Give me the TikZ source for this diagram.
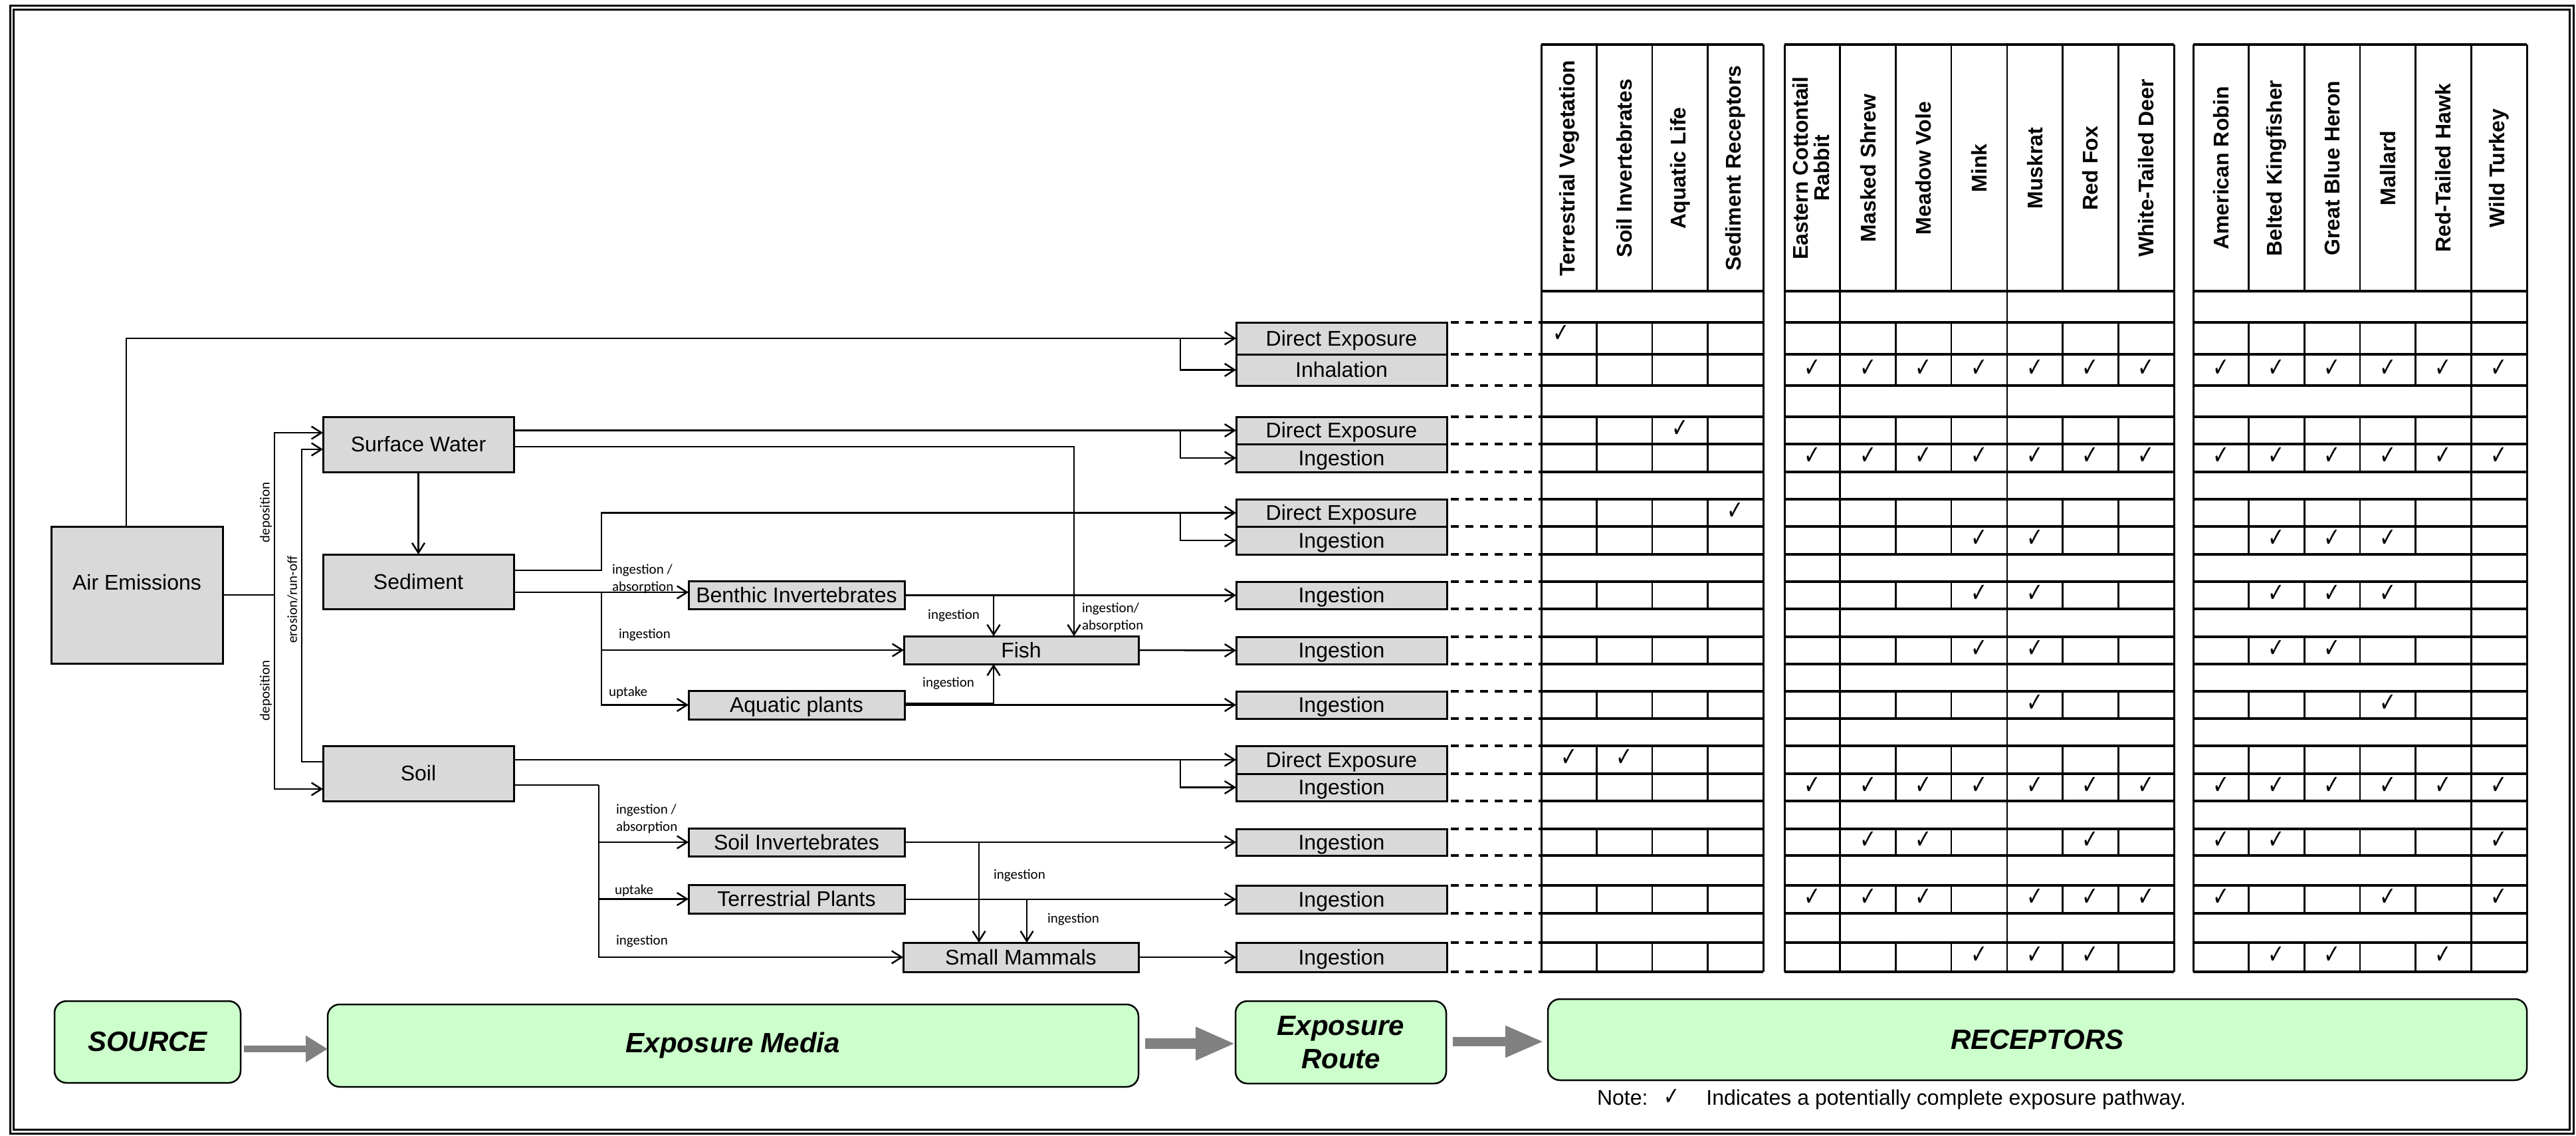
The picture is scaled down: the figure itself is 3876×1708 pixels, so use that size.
\documentclass[tikz,border=0pt]{standalone}
\usepackage{fontspec}
\setmainfont{Liberation Sans}
\newfontfamily\lblfont{Carlito}
\newfontfamily\symfont{DejaVu Sans}
\usetikzlibrary{arrows.meta,calc}

\definecolor{boxgrey}{HTML}{D9D9D9}
\definecolor{legendgreen}{HTML}{CCFFCC}
\definecolor{arrowgrey}{HTML}{808080}

% exposure-route box spanning two row lines of the receptor table
\newcommand\routebox[4]{\node[rbox, minimum height={(#3-#2)*1pt}] (#1) at (2018.5,{(#2+#3)/2}) {#4};}
% pathway tick mark
\newcommand\tick{\scalebox{0.75}[1]{✓}}

\begin{document}
\begin{tikzpicture}[x=1pt,y=-1pt,
  every node/.style={inner sep=0pt,outer sep=0pt},
  txt/.style={font=\fontsize{32}{38}\selectfont, text height=29pt, text depth=7pt},
  mbox/.style={txt, draw, line width=3pt, fill=boxgrey},
  rbox/.style={mbox, minimum width=317pt},
  wire/.style={line width=2.5pt},
  flow/.style={wire, -{Straight Barb[length=15pt,width=19pt]}},
  lbl/.style={font=\lblfont\fontsize{21}{26}\selectfont, align=left},
  dashrow/.style={line width=3.5pt, dash pattern=on 12pt off 10pt},
  tabh/.style={line width=3.5pt},
  tabv/.style={line width=2.5pt},
  tabo/.style={line width=3pt},
  hdr/.style={rotate=90, font=\fontsize{32}{32}\selectfont\bfseries, align=center},
  chk/.style={font=\symfont\fontsize{40}{40}\selectfont},
  legend/.style={draw, line width=2.5pt, fill=legendgreen, rounded corners=18pt,
    font=\fontsize{42}{50}\selectfont\bfseries\itshape, align=center},
]
\useasboundingbox (0,0) rectangle (3876,1708);

% double frame
\draw[line width=3pt] (15.5,8) rectangle (3872,1705);
\draw[line width=2.5pt] (20.5,14.5) rectangle (3866.5,1699.5);

% ---------- source and exposure media ----------
\node[mbox, minimum width=258pt, minimum height=206pt, text depth=44pt] (air) at (206,895) {Air Emissions};
\node[mbox, minimum width=287pt, minimum height=83pt] (sw) at (629.5,668.5) {Surface Water};
\node[mbox, minimum width=287pt, minimum height=82pt] (sed) at (629.5,875) {Sediment};
\node[mbox, minimum width=287pt, minimum height=83pt] (soil) at (629.5,1163.5) {Soil};
\node[mbox, minimum width=325pt, minimum height=42pt] (benthic) at (1198.5,895) {Benthic Invertebrates};
\node[mbox, minimum width=353pt, minimum height=42pt] (fish) at (1536.5,978) {Fish};
\node[mbox, minimum width=325pt, minimum height=43pt] (aqplants) at (1198.5,1060.5) {Aquatic plants};
\node[mbox, minimum width=325pt, minimum height=42pt] (soilinv) at (1198.5,1267) {Soil Invertebrates};
\node[mbox, minimum width=325pt, minimum height=43pt] (terrpl) at (1198.5,1352.5) {Terrestrial Plants};
\node[mbox, minimum width=354pt, minimum height=44pt] (smallmam) at (1536,1440) {Small Mammals};

% ---------- exposure routes ----------
\routebox{r1}{485}{533}{Direct Exposure}
\routebox{r2}{533}{580}{Inhalation}
\routebox{r3}{627}{668}{Direct Exposure}
\routebox{r4}{668}{710}{Ingestion}
\routebox{r5}{751}{792}{Direct Exposure}
\routebox{r6}{792}{834}{Ingestion}
\routebox{r7}{875}{916}{Ingestion}
\routebox{r8}{958}{999}{Ingestion}
\routebox{r9}{1040}{1081}{Ingestion}
\routebox{r10}{1122}{1164}{Direct Exposure}
\routebox{r11}{1164}{1205}{Ingestion}
\routebox{r12}{1247}{1287}{Ingestion}
\routebox{r13}{1332}{1374}{Ingestion}
\routebox{r14}{1418}{1462}{Ingestion}

\foreach \r in {r1,r2,r3,r4,r5,r6,r7,r8,r9,r10,r11,r12,r13,r14}{
  \draw[dashrow] ([xshift=6pt]\r.north east) -- ++(136,0);
  \draw[dashrow] ([xshift=6pt]\r.south east) -- ++(136,0);
}

% ---------- pathways ----------
\draw[flow] ([xshift=-16pt]air.north) |- (r1.west);
\draw[flow] ([xshift=-84pt]r1.west) |- (r2.west);
\draw[wire] (air.east) -- ++(78,0) coordinate (dep);
\draw[flow] (dep) |- ([yshift=17.5pt]sw.west);
\draw[flow] (dep) |- ([yshift=-23.5pt]soil.west);
\draw[flow] ([yshift=17.5pt]soil.west) -- ++(-32,0) |- ([yshift=-7.5pt]sw.west);
\draw[flow] (sw.south) -- (sed.north);

\draw[flow] (sw.east |- r3.west) -- (r3.west);
\draw[flow] ([xshift=-84pt]r3.west) |- (r4.west);
\draw[flow] ([yshift=-3.5pt]sw.east) -| ([xshift=79.5pt]fish.north);

\draw[flow] ([yshift=17pt]sed.east) -- ++(132,0) |- (r5.west);
\draw[flow] ([xshift=-84pt]r5.west) |- (r6.west);
\draw[flow] ([yshift=-16pt]sed.east) -- ([yshift=4pt]benthic.west);
\coordinate (sedj) at ($([yshift=-16pt]sed.east)+(132,0)$);
\draw[flow] (sedj) |- (fish.west);
\draw[flow] (sedj) |- (aqplants.west);

\draw[flow] (benthic.east |- r7.west) -- (r7.west);
\draw[flow] ([xshift=-41.5pt]fish.north |- benthic.east) -- ([xshift=-41.5pt]fish.north);
\draw[flow] (fish.east) -- (r8.west);
\draw[flow] (aqplants.east) -- (r9.west);
\draw[flow] ([yshift=2.5pt]aqplants.east) -| ([xshift=-41.5pt]fish.south);

\draw[flow] (soil.east |- r10.west) -- (r10.west);
\draw[flow] ([xshift=-84pt]r10.west) |- (r11.west);
\draw[wire] ([yshift=-17.5pt]soil.east) -- ++(128,0) coordinate (soilj);
\draw[flow] (soilj) |- (soilinv.west);
\draw[flow] (soilj) |- (terrpl.west);
\draw[flow] (soilj) |- (smallmam.west);
\draw[flow] (soilinv.east) -- (r12.west);
\draw[flow] (terrpl.east |- r13.west) -- (r13.west);
\draw[flow] (smallmam.east) -- (r14.west);
\draw[flow] ([xshift=-63pt]smallmam.north |- soilinv.east) -- ([xshift=-63pt]smallmam.north);
\draw[flow] ([xshift=9pt]smallmam.north |- terrpl.east) -- ([xshift=9pt]smallmam.north);

% pathway labels
\node[lbl, rotate=90] (depo1) at (400,771) {deposition};
\node[lbl, rotate=90] (depo2) at (400,1039) {deposition};
\node[lbl, rotate=90] (eros) at (440,902) {erosion/run-off};
\node[lbl, anchor=west] (l1) at (921,871) {ingestion /\\absorption};
\node[lbl, anchor=west] (l2) at (931,955) {ingestion};
\node[lbl, anchor=west] (l3) at (916,1042) {uptake};
\node[lbl, anchor=east] (l4) at (1474,926) {ingestion};
\node[lbl, anchor=west] (l5) at (1628,928.5) {ingestion/\\absorption};
\node[lbl, anchor=east] (l6) at (1466,1028) {ingestion};
\node[lbl, anchor=west] (l7) at (927,1232) {ingestion /\\absorption};
\node[lbl, anchor=west] (l8) at (925,1340) {uptake};
\node[lbl, anchor=west] (l9) at (927,1416) {ingestion};
\node[lbl, anchor=west] (l10) at (1495,1317) {ingestion};
\node[lbl, anchor=west] (l11) at (1576,1383) {ingestion};

% ---------- receptor table ----------
\foreach \xa/\xb in {2319/2653, 2685/3271, 3300/3802}{
  \draw[tabh] (\xa,67) -- (\xb,67);
  \foreach \y in {438,485,533,580,627,668,710,751,792,834,875,916,958,999,1040,1081,1122,1164,1205,1247,1287,1332,1374,1418,1462}
    \draw[tabh] (\xa,\y) -- (\xb,\y);
  \draw[tabo] (\xa,67) -- (\xa,1462);
  \draw[tabo] (\xb,67) -- (\xb,1462);
}
\foreach \x in {2402.5,2486,2569.5,2852.4,2936.1,3103.6,3187.3,3383.7,3467.3,3551,3634.7}
  \foreach \ya/\yb in {67/438,485/580,627/710,751/834,875/916,958/999,1040/1081,1122/1205,1247/1287,1332/1374,1418/1462}
    \draw[tabv] (\x,\ya) -- (\x,\yb);
\foreach \x in {2768.7,3019.9,3718.3}
  \draw[tabv] (\x,67) -- (\x,1462);

% column heads
\foreach \x/\t [count=\k] in {2360.8/Terrestrial Vegetation, 2444.3/Soil Invertebrates,
    2527.8/Aquatic Life, 2611.3/Sediment Receptors, 2810.6/Masked Shrew, 2894.3/Meadow Vole,
    2978.0/Mink, 3061.7/Muskrat, 3145.4/Red Fox, 3229.1/White-Tailed Deer,
    3341.8/American Robin, 3425.5/Belted Kingfisher, 3509.2/Great Blue Heron,
    3592.8/Mallard, 3676.5/Red-Tailed Hawk, 3760.2/Wild Turkey}
  \node[hdr] (hd\k) at (\x,253) {\t};
\node[hdr] (hdrabbit) at (2725,253) {Eastern Cottontail\\Rabbit};

% pathway marks
\node[chk] (ck0) at (2349,502) {\tick};
\foreach \y/\n in {556.5/a,689/b,1184.5/c}
  \foreach \x [count=\k] in {2726.9,2810.6,2894.3,2978.0,3061.7,3145.4,3229.1,3341.8,3425.5,3509.2,3592.8,3676.5,3760.2}
    \node[chk] (ck\n\k) at (\x,\y-3) {\tick};
\node[chk] (ckd) at (2527.8,644.5) {\tick};
\node[chk] (cke) at (2611.3,768.5) {\tick};
\foreach \y/\n in {813/f,895.5/g}
  \foreach \x [count=\k] in {2978.0,3061.7,3425.5,3509.2,3592.8}
    \node[chk] (ck\n\k) at (\x,\y-3) {\tick};
\foreach \x [count=\k] in {2978.0,3061.7,3425.5,3509.2}
  \node[chk] (ckh\k) at (\x,975.5) {\tick};
\foreach \x [count=\k] in {3061.7,3592.8}
  \node[chk] (cki\k) at (\x,1057.5) {\tick};
\foreach \x [count=\k] in {2360.8,2444.3}
  \node[chk] (ckj\k) at (\x,1140) {\tick};
\foreach \x [count=\k] in {2810.6,2894.3,3145.4,3341.8,3425.5,3760.2}
  \node[chk] (ckk\k) at (\x,1264) {\tick};
\foreach \x [count=\k] in {2726.9,2810.6,2894.3,3061.7,3145.4,3229.1,3341.8,3592.8,3760.2}
  \node[chk] (ckl\k) at (\x,1350) {\tick};
\foreach \x [count=\k] in {2978.0,3061.7,3145.4,3425.5,3509.2,3676.5}
  \node[chk] (ckm\k) at (\x,1437) {\tick};

% ---------- legend ----------
\node[legend, minimum width=280pt, minimum height=123pt] (lsrc) at (222,1567.5) {SOURCE};
\node[legend, minimum width=1220pt, minimum height=124pt] (lmedia) at (1103,1573) {Exposure Media};
\node[legend, minimum width=317pt, minimum height=124pt] (lroute) at (2017.5,1568) {Exposure\\Route};
\node[legend, minimum width=1473pt, minimum height=122pt] (lrec) at (3065.5,1564) {RECEPTORS};

\draw[arrowgrey, line width=10pt, -{Triangle[length=33pt,width=38pt]}]
  ([shift={(5,10.5)}]lsrc.east) -- ([shift={(0,5)}]lmedia.west);
\draw[arrowgrey, line width=16pt, -{Triangle[length=60pt,width=46pt]}]
  ([shift={(10,-3)}]lmedia.east) -- ([shift={(0,2)}]lroute.west);
\draw[arrowgrey, line width=14pt, -{Triangle[length=58pt,width=44pt]}]
  ([shift={(10,-1)}]lroute.east) -- ([shift={(-6,3)}]lrec.west);

\node[anchor=west, font=\fontsize{32}{38}\selectfont] (note) at (2403,1654)
  {Note:\hspace{24pt}{\symfont\fontsize{38}{38}\selectfont\tick}\hspace{40pt}Indicates a potentially complete exposure pathway.};
\end{tikzpicture}
\end{document}
